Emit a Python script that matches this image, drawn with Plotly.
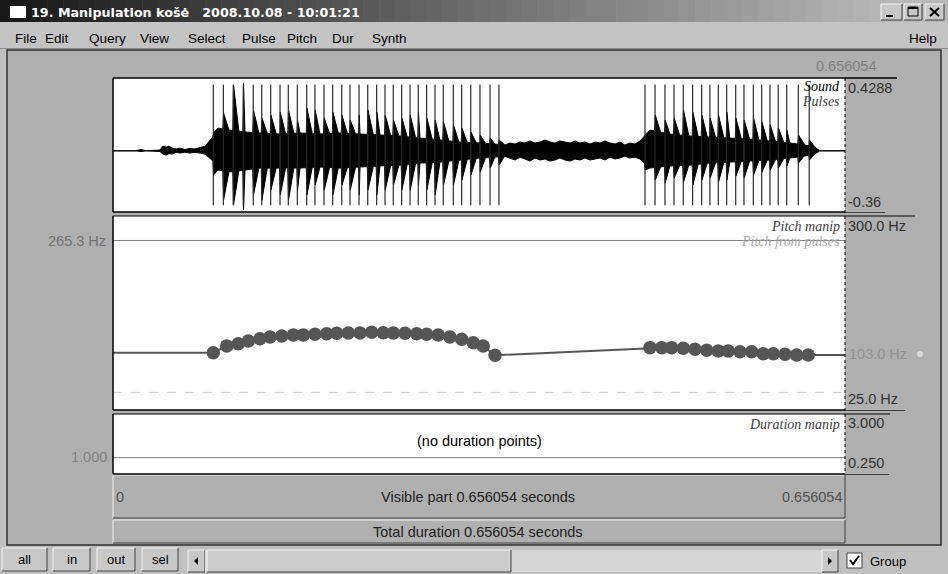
import numpy as np
import plotly.graph_objects as go

# ---------------- data ----------------
T_END = 0.656054
SOUND_MIN, SOUND_MAX = -0.36, 0.4288
PITCH_MIN, PITCH_MAX = 25.0, 300.0
PITCH_REF = 265.3
PITCH_FLOOR = 50.0
DUR_MIN, DUR_MAX = 0.25, 3.0
DUR_REF = 1.0

# waveform envelope (time s, upper / lower amplitude)
env_t = [0, 0.0197, 0.0251, 0.0296,
         0.0421, 0.0448, 0.0475, 0.0502, 0.0529, 0.0565, 0.0600, 0.0645, 0.0690, 0.0735, 0.0780, 0.0825, 0.0851,
         0.0887, 0.0941, 0.1049, 0.1183, 0.1317, 0.1497, 0.1676, 0.1855, 0.2034, 0.2214, 0.2393, 0.2572,
         0.2751, 0.2930, 0.3110, 0.3289, 0.3423,
         0.3513, 0.3558, 0.3603, 0.3648, 0.3692, 0.3737, 0.3782, 0.3827, 0.3872, 0.3916, 0.3961, 0.4006,
         0.4051, 0.4096, 0.4141, 0.4185, 0.4230, 0.4275, 0.4320, 0.4365, 0.4409, 0.4454, 0.4499, 0.4544,
         0.4588, 0.4633, 0.4678, 0.4723,
         0.4812, 0.4991, 0.5170, 0.5349, 0.5528, 0.5708, 0.5887, 0.6066, 0.6200, 0.6290, 0.6335, 0.656054]
env_up = [0, 0, 0.008, 0,
          0.005, 0.028, 0.022, 0.028, 0.016, 0.011, 0.016, 0.008, 0.014, 0.011, 0.019, 0.028, 0.046,
          0.075, 0.134, 0.122, 0.111, 0.105, 0.099, 0.105, 0.099, 0.105, 0.099, 0.093, 0.087, 0.075, 0.064,
          0.052, 0.046, 0.040,
          0.034, 0.046, 0.040, 0.052, 0.046, 0.058, 0.046, 0.052, 0.064, 0.052, 0.046, 0.058, 0.052, 0.046,
          0.058, 0.046, 0.052, 0.040, 0.052, 0.046, 0.058, 0.046, 0.040, 0.052, 0.034, 0.046, 0.040, 0.058,
          0.122, 0.099, 0.087, 0.081, 0.075, 0.069, 0.058, 0.046, 0.034, 0.022, 0, 0]
env_low = [0, 0, -0.004, 0,
           -0.004, -0.019, -0.025, -0.016, -0.019, -0.008, -0.013, -0.008, -0.013, -0.008, -0.013, -0.019, -0.031,
           -0.054, -0.113, -0.125, -0.113, -0.101, -0.101, -0.101, -0.095, -0.101, -0.095, -0.089, -0.084,
           -0.072, -0.066, -0.054, -0.042, -0.037,
           -0.031, -0.042, -0.054, -0.037, -0.048, -0.060, -0.042, -0.054, -0.048, -0.060, -0.054, -0.042,
           -0.054, -0.060, -0.048, -0.054, -0.042, -0.054, -0.048, -0.042, -0.054, -0.037, -0.048, -0.042,
           -0.031, -0.042, -0.037, -0.048,
           -0.101, -0.089, -0.084, -0.072, -0.066, -0.060, -0.054, -0.042, -0.031, -0.019, 0, 0]

# glottal pulses (s) with waveform peak amplitudes at each pulse
pulse_t = [0.0899, 0.0989, 0.1078, 0.1168, 0.1257, 0.1333, 0.1413, 0.1497, 0.1571, 0.1652, 0.1736, 0.1810,
           0.1891, 0.1969, 0.2050, 0.2124, 0.2205, 0.2283, 0.2363, 0.2438, 0.2512, 0.2587, 0.2662, 0.2736,
           0.2811, 0.2886, 0.2960, 0.3050, 0.3125, 0.3206, 0.3289, 0.3379, 0.3459,
           0.4768, 0.4858, 0.4947, 0.5028, 0.5111, 0.5195, 0.5276, 0.5350, 0.5425, 0.5500, 0.5581, 0.5655,
           0.5739, 0.5814, 0.5888, 0.5962, 0.6038, 0.6142, 0.6240]
pulse_peak_up = [0.105, 0.222, 0.387, 0.400, 0.240, 0.193, 0.211, 0.228, 0.240, 0.181, 0.252, 0.240, 0.193,
                 0.228, 0.211, 0.181, 0.211, 0.240, 0.228, 0.211, 0.181, 0.193, 0.211, 0.228, 0.193, 0.181,
                 0.170, 0.152, 0.134, 0.111, 0.093, 0.075, 0.064,
                 0.093, 0.211, 0.181, 0.193, 0.240, 0.228, 0.211, 0.193, 0.211, 0.228, 0.193, 0.181, 0.193,
                 0.170, 0.152, 0.134, 0.122, 0.093, 0.064]
pulse_peak_down = [-0.142, -0.290, -0.319, -0.348, -0.260, -0.290, -0.231, -0.260, -0.290, -0.231, -0.260,
                   -0.201, -0.231, -0.260, -0.201, -0.231, -0.260, -0.231, -0.260, -0.231, -0.201, -0.231,
                   -0.231, -0.201, -0.231, -0.260, -0.201, -0.201, -0.172, -0.142, -0.125, -0.101, -0.084,
                   -0.113, -0.172, -0.190, -0.160, -0.184, -0.201, -0.172, -0.160, -0.184, -0.172, -0.148,
                   -0.160, -0.142, -0.125, -0.113, -0.101, -0.089, -0.072, -0.054]
PULSE_TOP, PULSE_BOTTOM = 0.39, -0.32

# pitch manipulation points
pitch_t = [0.0899, 0.1019, 0.1123, 0.1213, 0.1317, 0.1407, 0.1512, 0.1616, 0.1706, 0.1810, 0.1915, 0.2005,
           0.2109, 0.2214, 0.2319, 0.2422, 0.2512, 0.2617, 0.2722, 0.2811, 0.2915, 0.3020, 0.3125, 0.3229,
           0.3318, 0.3424,
           0.4813, 0.4918, 0.5007, 0.5111, 0.5216, 0.5321, 0.5425, 0.5514, 0.5619, 0.5724, 0.5828, 0.5918,
           0.6023, 0.6127, 0.6231]
pitch_hz = [106.3, 115.8, 119.0, 122.8, 126.1, 128.5, 129.9, 131.4, 131.4, 132.3, 133.2, 133.8, 134.2, 134.2,
            135.2, 134.6, 134.2, 133.8, 133.2, 132.3, 131.4, 128.5, 125.3, 120.4, 115.8, 102.6,
            113.4, 113.4, 113.4, 112.5, 111.1, 109.7, 108.7, 108.7, 107.7, 107.7, 104.8, 104.8, 103.9,
            103.0, 103.0]

title_text = "19. Manipulation košė   2008.10.08 - 10:01:21"
menu_items = ["File", "Edit", "Query", "View", "Select", "Pulse", "Pitch", "Dur", "Synth"]
button_labels = ["all", "in", "out", "sel"]

# ---------------- layout helpers ----------------
W, H = 948, 574
def X(px): return px / W
def Y(py): return 1 - py / H

shapes = []
annots = []

def rect(x0, y0, x1, y1, fill=None, line=None, lw=1, layer="below", dash=None):
    d = dict(type="rect", xref="paper", yref="paper", x0=X(x0), x1=X(x1), y0=Y(y1), y1=Y(y0),
             layer=layer, line=dict(width=lw if line else 0, color=line or "rgba(0,0,0,0)"))
    if dash: d["line"]["dash"] = dash
    if fill: d["fillcolor"] = fill
    shapes.append(d)

def hline(x0, x1, y, color="#000", lw=1, dash=None, layer="above"):
    d = dict(type="line", xref="paper", yref="paper", x0=X(x0), x1=X(x1), y0=Y(y), y1=Y(y),
             line=dict(color=color, width=lw), layer=layer)
    if dash: d["line"]["dash"] = dash
    shapes.append(d)

def vline(x, y0, y1, color="#000", lw=1, dash=None, layer="above"):
    d = dict(type="line", xref="paper", yref="paper", x0=X(x), x1=X(x), y0=Y(y0), y1=Y(y1),
             line=dict(color=color, width=lw), layer=layer)
    if dash: d["line"]["dash"] = dash
    shapes.append(d)

def raised(x0, y0, x1, y1, fill="#c8c8c8"):
    rect(x0, y0, x1, y1, fill=fill)
    hline(x0, x1, y0, "#f4f4f4", 1, layer="below")
    vline(x0, y0, y1, "#f4f4f4", 1, layer="below")
    hline(x0, x1, y1, "#404040", 1, layer="below")
    vline(x1, y0, y1, "#404040", 1, layer="below")

def text(x, y, s, size=14, color="#000", family="Liberation Sans", xanchor="left", bold=False, italic=False):
    if bold: s = "<b>" + s + "</b>"
    if italic: s = "<i>" + s + "</i>"
    annots.append(dict(x=X(x), y=Y(y), xref="paper", yref="paper", text=s, showarrow=False,
                       xanchor=xanchor, yanchor="middle", font=dict(size=size, color=color, family=family),
                       borderpad=0))

UI = "Liberation Sans"
SERIF = "Liberation Serif"

# ---------------- window chrome ----------------
rect(0, 0, W, H, fill="#c0c0c0")
n = 60
for i in range(n):
    x0 = i * W / n
    x1 = (i + 1) * W / n + 0.5
    v = int(24 + (184 - 24) * min(1, i / (n * 0.93)))
    rect(x0, 0, x1, 22, fill="rgb(%d,%d,%d)" % (v, v, v))
rect(10, 6, 26, 18, fill="#ffffff")
text(30, 12, title_text, size=12.7, color="#ffffff", family="DejaVu Sans", bold=True)
for (a, b) in [(881, 902), (904, 922), (925, 944)]:
    raised(a, 4, b, 20, fill="#c8c8c8")
hline(886, 893, 16, "#000", 2)
rect(908, 7, 918, 16, line="#000", lw=1)
hline(908, 918, 8, "#000", 2)
shapes.append(dict(type="line", xref="paper", yref="paper", x0=X(930), x1=X(939), y0=Y(8), y1=Y(16),
                   line=dict(color="#000", width=2)))
shapes.append(dict(type="line", xref="paper", yref="paper", x0=X(930), x1=X(939), y0=Y(16), y1=Y(8),
                   line=dict(color="#000", width=2)))
rect(0, 22, W, 48, fill="#c4c4c4")
hline(0, W, 48.5, "#909090", 1, layer="below")
menu_x = [14, 44, 88, 139, 187, 241, 286, 331, 371]
for mx, m in zip(menu_x, menu_items):
    text(mx, 38, m, size=13.5, color="#000", family=UI)
text(938, 38, "Help", size=13.5, color="#000", family=UI, xanchor="right")

rect(7, 50, 941, 545, fill="#b0b0b0", line="#303030", lw=1.5)
rect(113, 78, 845, 212, fill="#ffffff")
rect(113, 216, 845, 410, fill="#ffffff")
rect(113, 414, 845, 474, fill="#ffffff")
raised(113, 475, 845, 518, fill="#b0b0b0")
raised(113, 520, 845, 543, fill="#b0b0b0")

for (y0, y1) in [(78, 212), (216, 410), (414, 474)]:
    vline(113, y0, y1, "#000", 1.5)
hline(113, 897, 78, "#000", 1.5)
hline(113, 845, 212, "#000", 1.5)
hline(845, 885, 212.5, "#404040", 1)
hline(113, 915, 216, "#000", 1.2)
hline(113, 845, 410, "#000", 1.5)
hline(845, 905, 410.5, "#404040", 1)
hline(113, 890, 414, "#000", 1.2)
hline(113, 845, 474, "#000", 1.5)
hline(845, 889, 474.5, "#404040", 1)
vline(845, 78, 474, "#000", 1, dash="dot")

for (a, b), lab in zip([(2, 47), (53, 90), (97, 135), (142, 178)], button_labels):
    raised(a, 548, b, 571, fill="#c8c8c8")
    text((a + b) / 2, 559.5, lab, size=13, color="#000", family=UI, xanchor="center")
raised(188, 550, 205, 572, fill="#c8c8c8")
shapes.append(dict(type="path", xref="paper", yref="paper",
                   path="M %f %f L %f %f L %f %f Z" % (X(194), Y(561), X(198), Y(557), X(198), Y(565)),
                   fillcolor="#000", line=dict(width=0)))
rect(205, 550, 822, 572, fill="#d6d6d6")
raised(207, 550, 511, 572, fill="#cccccc")
raised(822, 550, 838, 572, fill="#c8c8c8")
shapes.append(dict(type="path", xref="paper", yref="paper",
                   path="M %f %f L %f %f L %f %f Z" % (X(832), Y(561), X(828), Y(557), X(828), Y(565)),
                   fillcolor="#000", line=dict(width=0)))
rect(847, 553, 862, 568, fill="#ffffff", line="#404040", lw=1)
shapes.append(dict(type="path", xref="paper", yref="paper",
                   path="M %f %f L %f %f L %f %f" % (X(850), Y(560), X(853), Y(564), X(859), Y(556)),
                   line=dict(color="#000", width=2)))
text(869, 561, "Group", size=13, color="#000", family=UI)

# ---------------- text labels ----------------
text(877, 66, "0.656054", size=14.5, color="#808080", xanchor="right")
text(847, 88, "0.4288", size=14.5, color="#303030")
text(847, 202, "-0.36", size=14.5, color="#303030")
text(841, 87, "Sound", size=14, color="#000", family=SERIF, xanchor="right", italic=True)
text(841, 101, "Pulses", size=14, color="#404040", family=SERIF, xanchor="right", italic=True)
text(847, 226, "300.0 Hz", size=14.5, color="#303030")
text(841, 226, "Pitch manip", size=14, color="#404040", family=SERIF, xanchor="right", italic=True)
text(841, 241, "Pitch from pulses", size=14, color="#a8a8a8", family=SERIF, xanchor="right", italic=True)
text(107, 241, "%.1f Hz" % PITCH_REF, size=14.5, color="#707070", xanchor="right")
text(848, 354, "%.1f Hz" % pitch_hz[-1], size=14.5, color="#909090")
text(847, 399, "%.1f Hz" % PITCH_MIN, size=14.5, color="#303030")
text(847, 423, "%.3f" % DUR_MAX, size=14.5, color="#303030")
text(841, 424, "Duration manip", size=14, color="#404040", family=SERIF, xanchor="right", italic=True)
text(847, 463, "%.3f" % DUR_MIN, size=14.5, color="#303030")
text(108, 457, "%.3f" % DUR_REF, size=14.5, color="#808080", xanchor="right")
text(479, 441, "(no duration points)", size=14.5, color="#000", xanchor="center")
text(115, 497, "0", size=14.5, color="#505050")
text(478, 497, "Visible part %.6f seconds" % T_END, size=14.5, color="#202020", xanchor="center")
text(843, 497, "%.6f" % T_END, size=14.5, color="#505050", xanchor="right")
text(478, 532, "Total duration %.6f seconds" % T_END, size=14.5, color="#202020", xanchor="center")

# ---------------- data traces ----------------
fig = go.Figure()

et = np.array(env_t); eu = np.array(env_up); el = np.array(env_low)
ut = list(et); uv = list(eu); lt = list(et); lv = list(el)
for tp, pu, pd in zip(pulse_t, pulse_peak_up, pulse_peak_down):
    for dt, val_u, val_l in [(-0.0004, None, None), (0.0002, pu, pd), (0.0050, None, None)]:
        t = tp + dt
        ut.append(t); uv.append(val_u if val_u is not None else float(np.interp(t, et, eu)))
        lt.append(t); lv.append(val_l if val_l is not None else float(np.interp(t, et, el)))
ou = np.argsort(ut); ol = np.argsort(lt)
ux = np.array(ut)[ou]; uy = np.array(uv)[ou]
lx = np.array(lt)[ol][::-1]; ly = np.array(lv)[ol][::-1]
fig.add_trace(go.Scatter(x=np.concatenate([ux, lx]), y=np.concatenate([uy, ly]), mode="lines",
                         fill="toself", fillcolor="#000000", line=dict(color="#000000", width=1),
                         xaxis="x", yaxis="y", hoverinfo="skip", showlegend=False))
px_, py_ = [], []
for tp in pulse_t:
    px_ += [tp, tp, None]; py_ += [PULSE_BOTTOM, PULSE_TOP, None]
fig.add_trace(go.Scatter(x=px_, y=py_, mode="lines", line=dict(color="#2a2a2a", width=1.2),
                         xaxis="x", yaxis="y", hoverinfo="skip", showlegend=False))

fig.add_trace(go.Scatter(x=[0, T_END], y=[PITCH_REF, PITCH_REF], mode="lines",
                         line=dict(color="#808080", width=1), xaxis="x2", yaxis="y2", showlegend=False))
fig.add_trace(go.Scatter(x=[0, T_END], y=[PITCH_FLOOR, PITCH_FLOOR], mode="lines",
                         line=dict(color="#c8c8c8", width=1, dash="dash"), xaxis="x2", yaxis="y2",
                         showlegend=False))
fig.add_trace(go.Scatter(x=[0] + pitch_t + [T_END], y=[pitch_hz[0]] + pitch_hz + [pitch_hz[-1]],
                         mode="lines", line=dict(color="#555555", width=2), xaxis="x2", yaxis="y2",
                         showlegend=False))
fig.add_trace(go.Scatter(x=pitch_t, y=pitch_hz, mode="markers",
                         marker=dict(color="#555555", size=13.5, line=dict(width=0)),
                         xaxis="x2", yaxis="y2", showlegend=False))
fig.add_trace(go.Scatter(x=[0, T_END], y=[DUR_REF, DUR_REF], mode="lines",
                         line=dict(color="#808080", width=1), xaxis="x3", yaxis="y3", showlegend=False))
fig.add_trace(go.Scatter(x=[X(920)], y=[Y(354)], mode="markers", marker=dict(color="#dcdcdc", size=6),
                         xaxis="x4", yaxis="y4", showlegend=False))

xd = [X(113), X(845)]
ax = dict(visible=False, range=[0, T_END], fixedrange=True)
fig.update_layout(
    width=W, height=H, margin=dict(l=0, r=0, t=0, b=0),
    paper_bgcolor="#c0c0c0", plot_bgcolor="rgba(0,0,0,0)",
    xaxis=dict(ax, domain=xd, anchor="y"),
    yaxis=dict(visible=False, range=[SOUND_MIN, SOUND_MAX], domain=[Y(212), Y(78)], anchor="x"),
    xaxis2=dict(ax, domain=xd, anchor="y2"),
    yaxis2=dict(visible=False, range=[PITCH_MIN, PITCH_MAX], domain=[Y(410), Y(216)], anchor="x2"),
    xaxis3=dict(ax, domain=xd, anchor="y3"),
    yaxis3=dict(visible=False, range=[DUR_MIN, DUR_MAX], domain=[Y(474), Y(414)], anchor="x3"),
    xaxis4=dict(visible=False, range=[0, 1], domain=[0, 1], anchor="y4"),
    yaxis4=dict(visible=False, range=[0, 1], domain=[0, 1], anchor="x4"),
    shapes=shapes, annotations=annots, showlegend=False, hovermode=False,
)
fig.write_html("out.html", config={"displayModeBar": False, "staticPlot": True},
               post_script="document.body.style.margin='0';document.body.style.overflow='hidden';")
